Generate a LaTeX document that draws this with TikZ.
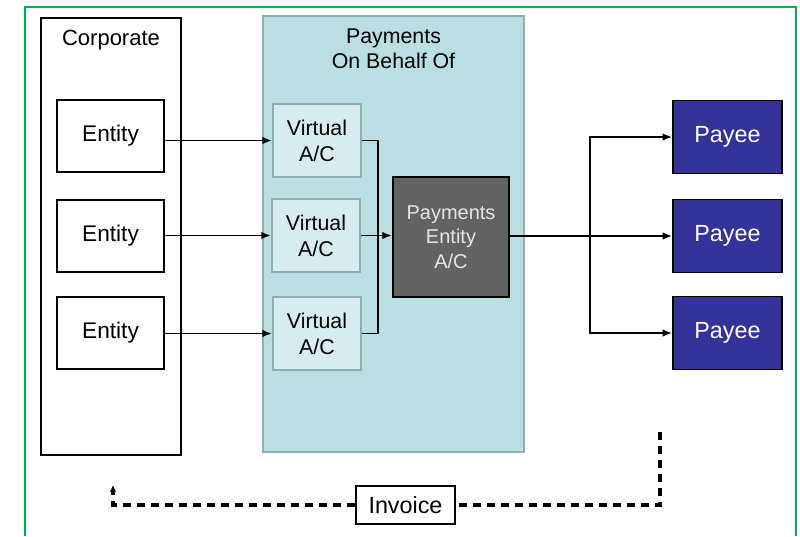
\documentclass[tikz,border=0pt]{standalone}
\usepackage{fontspec}
\setmainfont{Liberation Sans}
\usetikzlibrary{arrows.meta}
\definecolor{frameGreen}{HTML}{00B050}
\definecolor{poboFill}{HTML}{BADFE3}
\definecolor{poboLine}{HTML}{8EAEB2}
\definecolor{virtFill}{HTML}{D6ECEF}
\definecolor{peaFill}{HTML}{636363}
\definecolor{payeeFill}{HTML}{333399}
\tikzset{
	entitybox/.style={draw,line width=1.4pt,minimum width=80pt,minimum height=54pt,font=\fontsize{17}{20}\selectfont},
	virtbox/.style={draw=poboLine,fill=virtFill,line width=1.8pt,minimum width=66pt,minimum height=54.75pt,align=center,font=\fontsize{16}{19.5}\selectfont},
	payeebox/.style={draw,fill=payeeFill,text=white,line width=1.4pt,minimum width=81.75pt,minimum height=54.75pt,font=\fontsize{17.5}{20}\selectfont},
	flow/.style={line width=1.1pt,-{Latex[length=7pt,width=5.5pt]}},
	link/.style={line width=1.1pt},
	invoiceline/.style={line width=2.4pt,dash pattern=on 6pt off 4.5pt}
}
\begin{document}
\begin{tikzpicture}[x=0.75pt,y=-0.75pt]
	\useasboundingbox (0,0) rectangle (800,536);
	\draw[frameGreen,line width=1.8pt] (25,536) -- (25,7) -- (796,7) -- (796,536);
	\node[draw,line width=1.8pt,minimum width=105pt,minimum height=327.75pt] (corp) at (111,236.5) {};
	\node[font=\fontsize{16.5}{20}\selectfont] (corplbl) at (111,40) {Corporate};
	\node[entitybox] (ent1) at (110.5,136) {Entity};
	\node[entitybox] (ent2) at (110.5,236) {Entity};
	\node[entitybox] (ent3) at (110.5,333) {Entity};
	\node[draw=poboLine,fill=poboFill,line width=1.8pt,minimum width=195.75pt,minimum height=327pt] (pobo) at (393.5,234) {};
	\node[align=center,font=\fontsize{16}{18.5}\selectfont] (pobolbl) at (393.5,48.5) {Payments\\On Behalf Of};
	\node[virtbox] (virt1) at (317,140.5) {Virtual\\A/C};
	\node[virtbox] (virt2) at (316,235.5) {Virtual\\A/C};
	\node[virtbox] (virt3) at (317,333.5) {Virtual\\A/C};
	\node[draw,fill=peaFill,text=white!90!black,line width=1.8pt,minimum width=87pt,minimum height=90pt,align=center,font=\fontsize{15}{18.5}\selectfont] (pea) at (451,237) {Payments\\Entity\\A/C};
	\node[payeebox] (payee1) at (727.5,137) {Payee};
	\node[payeebox] (payee2) at (727.5,236) {Payee};
	\node[payeebox] (payee3) at (727.5,333) {Payee};
	\node[draw,line width=1.4pt,minimum width=74pt,minimum height=28.5pt,font=\fontsize{17.5}{20}\selectfont] (invoice) at (405.5,505) {Invoice};
	\coordinate (busL) at (378,236);
	\coordinate (busR) at (590,236);
	\coordinate (invR) at (660,432);
	\coordinate (invL) at (113,485);
	\draw[flow] (ent1.east |- virt1.west) -- (virt1.west);
	\draw[flow] (ent2.east |- virt2.west) -- (virt2.west);
	\draw[flow] (ent3.east |- virt3.west) -- (virt3.west);
	\draw[link] (virt1.east) -| (busL);
	\draw[link] (virt3.east) -| (busL);
	\draw[flow] (virt2.east) -- (pea.west |- virt2.east);
	\draw[link] (pea.east |- busR) -- (busR);
	\draw[flow] (busR) |- (payee1.west);
	\draw[flow] (busR) -- (payee2.west);
	\draw[flow] (busR) |- (payee3.west);
	\draw[invoiceline] (invR) |- (invoice.east);
	\draw[invoiceline] (invoice.west) -| ([yshift=-4pt]invL);
	\draw[line width=1.8pt,-{Latex[length=5pt,width=5pt]}] ([yshift=-5pt]invL) -- (invL);
\end{tikzpicture}
\end{document}
